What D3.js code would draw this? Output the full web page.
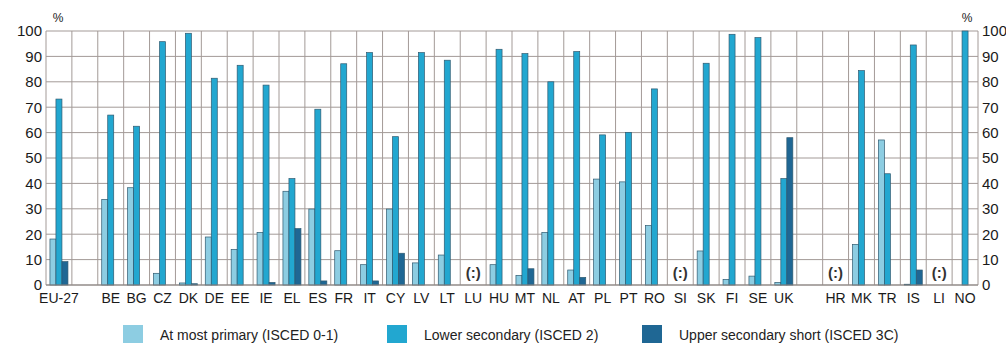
<!DOCTYPE html>
<html><head><meta charset="utf-8">
<script src="https://cdn.jsdelivr.net/npm/d3@7"></script>
<style>
html,body{margin:0;padding:0;background:#fff;}
svg{display:block;}
</style></head>
<body>
<svg id="c" width="1006" height="343"></svg>
<script>
const categories = ["EU-27","","BE","BG","CZ","DK","DE","EE","IE","EL","ES","FR","IT","CY","LV","LT","LU","HU","MT","NL","AT","PL","PT","RO","SI","SK","FI","SE","UK","","HR","MK","TR","IS","LI","NO"];
const primary = [18.1,null,33.7,38.3,4.6,0.8,18.9,14.0,20.7,36.9,29.9,13.5,8.0,29.9,8.7,11.8,null,8.0,3.8,20.7,5.9,41.7,40.6,23.4,null,13.4,2.2,3.5,1.0,null,null,16.0,57.1,0.3,null,null];
const lowerSec = [73.2,null,66.9,62.5,95.8,99.1,81.4,86.5,78.7,41.9,69.2,87.1,91.5,58.4,91.5,88.5,null,92.8,91.1,80.0,91.9,59.1,60.1,77.2,null,87.3,98.7,97.4,41.9,null,null,84.4,43.8,94.5,null,100];
const upperShort = [9.2,null,null,null,null,0.5,null,null,1.0,22.2,1.6,null,1.6,12.5,null,null,null,null,6.4,null,3.0,null,null,null,null,null,null,null,58.0,null,null,null,null,5.9,null,null];
const notAvailable = ["LU","SI","HR","LI"];
const seriesNames = ["At most primary (ISCED 0-1)","Lower secondary (ISCED 2)","Upper secondary short (ISCED 3C)"];
const yTicks = [0,10,20,30,40,50,60,70,80,90,100];

const colors = ["#8dcde2","#22a7d0","#1f6794"];
const seriesData = [primary, lowerSec, upperShort];

const svg = d3.select("#c");
const L = 46, R = 978, T = 31, B = 285;
const idx = categories.map((d,i)=>i);
const x = d3.scaleBand().domain(idx).range([L,R]).padding(0);
const y = d3.scaleLinear().domain([0,100]).range([B,T]);
const inner = d3.scaleBand().domain([0,1,2]).range([0,18]).padding(0);
const grid = "#a39a97";

svg.append("g").selectAll("line").data(yTicks).join("line")
  .attr("x1",L).attr("x2",R).attr("y1",d=>y(d)).attr("y2",d=>y(d))
  .attr("stroke",grid).attr("stroke-width",1);
const vb = idx.map(i=>x(i)).concat([R]);
svg.append("g").selectAll("line").data(vb).join("line")
  .attr("x1",d=>d).attr("x2",d=>d).attr("y1",T).attr("y2",B)
  .attr("stroke",grid).attr("stroke-width",1);

const off = (x.bandwidth()-18)/2;
seriesData.forEach((arr,s)=>{
  svg.append("g").selectAll("rect").data(arr.map((v,i)=>({v,i})).filter(d=>d.v!=null)).join("rect")
    .attr("x",d=>x(d.i)+off+inner(s))
    .attr("width",inner.bandwidth())
    .attr("y",d=>y(d.v))
    .attr("height",d=>B-y(d.v))
    .attr("fill",colors[s])
    .attr("stroke","#2f5a70").attr("stroke-width",0.7);
});

svg.append("line").attr("x1",L).attr("x2",R).attr("y1",B).attr("y2",B).attr("stroke","#8a8482").attr("stroke-width",1.2);

const font = "'Liberation Sans Narrow','Arial Narrow','Liberation Sans',Arial,sans-serif";
const yl = d3.axisLeft(y).tickValues(yTicks).tickSize(0).tickPadding(4);
const gl = svg.append("g").attr("transform",`translate(${L},0)`).call(yl);
gl.select(".domain").remove();
gl.selectAll("text").attr("font-family",font).attr("font-size",15).attr("fill","#1a1a1a");
const yr = d3.axisRight(y).tickValues(yTicks).tickSize(0).tickPadding(4);
const gr = svg.append("g").attr("transform",`translate(${R},0)`).call(yr);
gr.select(".domain").remove();
gr.selectAll("text").attr("font-family",font).attr("font-size",15).attr("fill","#1a1a1a");

svg.append("text").attr("x",58).attr("y",22).attr("text-anchor","middle").attr("font-family",font).attr("font-size",12).attr("fill","#222").text("%");
svg.append("text").attr("x",967).attr("y",22).attr("text-anchor","middle").attr("font-family",font).attr("font-size",12).attr("fill","#222").text("%");

const xa = d3.axisBottom(x).tickFormat(i=>categories[i]).tickSize(0).tickPadding(8);
const gx = svg.append("g").attr("transform",`translate(0,${B})`).call(xa);
gx.select(".domain").remove();
gx.selectAll("text").attr("font-family",font).attr("font-size",14).attr("fill","#1a1a1a");

svg.append("g").selectAll("text").data(idx.filter(i=>notAvailable.includes(categories[i]))).join("text")
  .attr("x",i=>x(i)+x.bandwidth()/2).attr("y",278).attr("text-anchor","middle")
  .attr("font-family",font).attr("font-size",15).attr("font-weight","bold").attr("fill","#333").text("(:)");

const legX = [123,387,642];
const lg = svg.append("g");
seriesNames.forEach((n,s)=>{
  lg.append("rect").attr("x",legX[s]).attr("y",325).attr("width",20).attr("height",18).attr("fill",colors[s]);
  lg.append("text").attr("x",legX[s]+37).attr("y",340).attr("font-family",font).attr("font-size",14).attr("fill","#222").text(n);
});
</script>
</body></html>
